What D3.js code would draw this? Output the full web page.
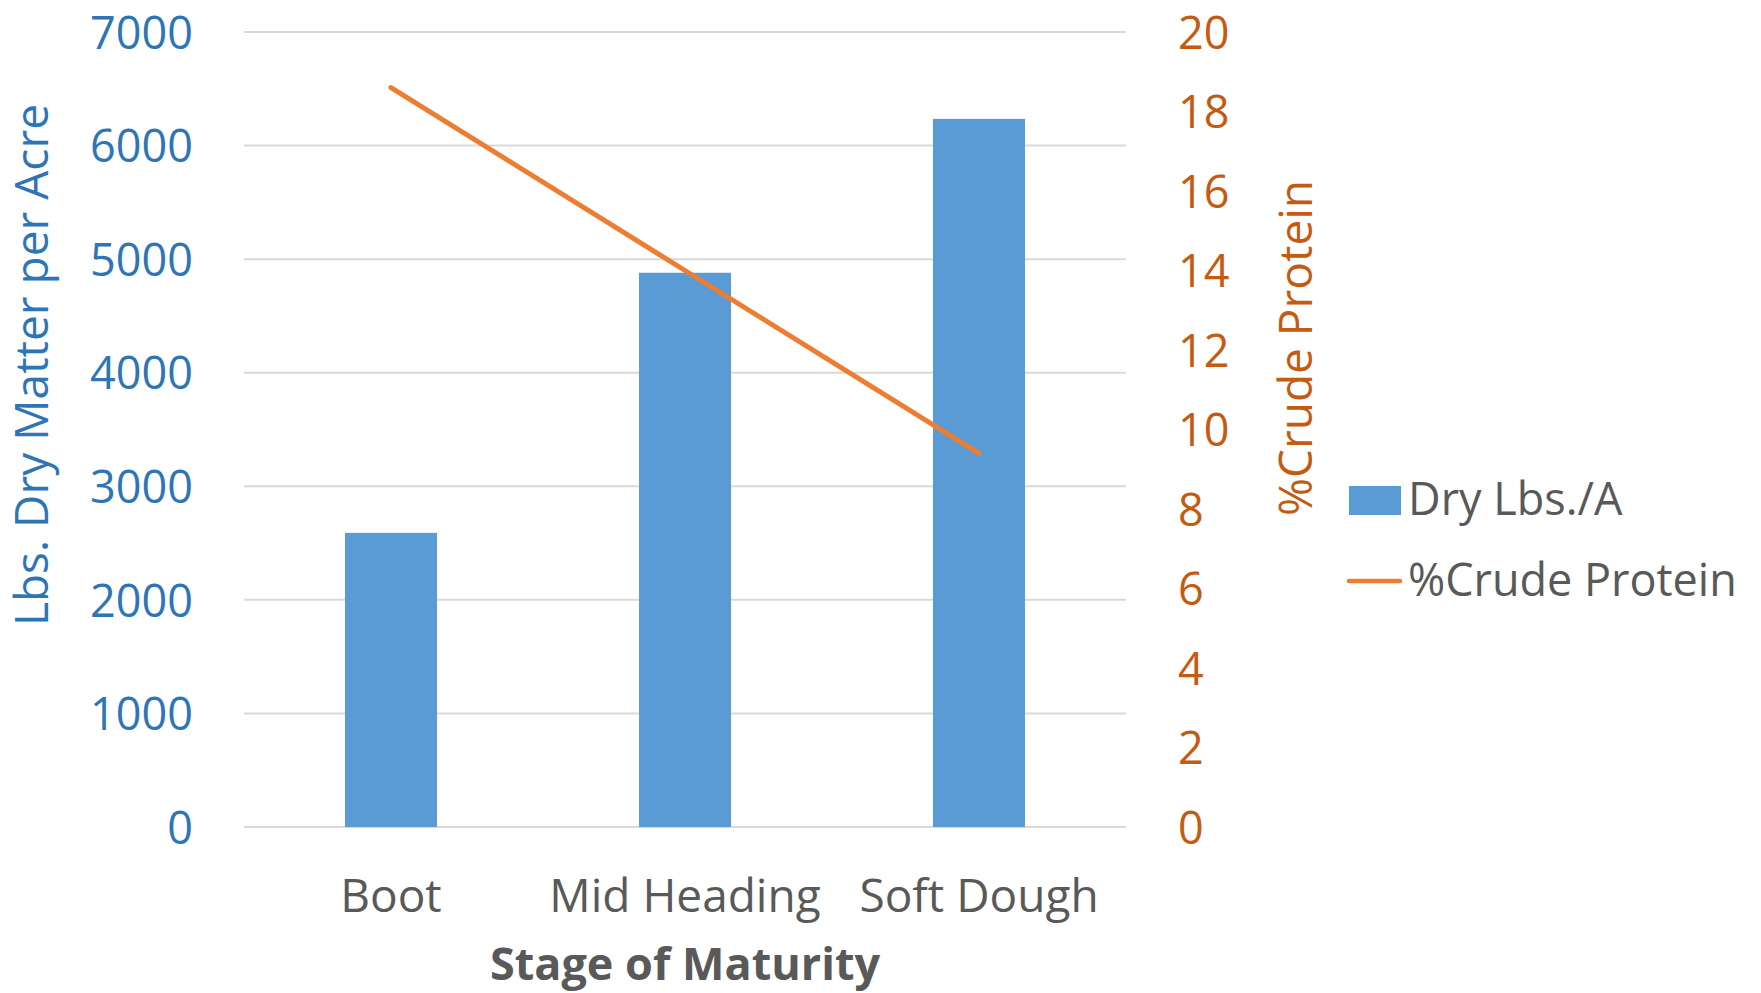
<!DOCTYPE html>
<html>
<head>
<meta charset="utf-8">
<script src="https://cdn.jsdelivr.net/npm/d3@7"></script>
<style>
  body { margin: 0; background: #ffffff; }
  svg { display: block; font-family: "Open Sans", sans-serif; }
  .grid line { stroke: #d9d9d9; stroke-width: 2px; }
</style>
</head>
<body>
<div id="chart"></div>
<script>
// data
const stages = ["Boot", "Mid Heading", "Soft Dough"];
const dryLbs = [2590, 4880, 6235];
const crudeProtein = [18.6, 14.0, 9.4];
const leftTicks = [0, 1000, 2000, 3000, 4000, 5000, 6000, 7000];
const rightTicks = [0, 2, 4, 6, 8, 10, 12, 14, 16, 18, 20];

const W = 1761, H = 993;
const margin = {top: 32, right: 635, bottom: 166, left: 244};
const width = W - margin.left - margin.right;
const height = H - margin.top - margin.bottom;

const blue = "#5b9bd5", orange = "#ed7d31";
const leftColor = "#2e75b6", rightColor = "#c55a11", gray = "#595959";

const svg = d3.select("#chart").append("svg")
    .attr("width", W)
    .attr("height", H);

const g = svg.append("g")
    .attr("transform", `translate(${margin.left},${margin.top})`);

const x = d3.scaleBand()
    .domain(stages)
    .range([0, width])
    .paddingInner(0.687)
    .paddingOuter(0.3435);

const yLeft = d3.scaleLinear().domain([0, 7000]).range([height, 0]);
const yRight = d3.scaleLinear().domain([0, 20]).range([height, 0]);

// gridlines
g.append("g")
    .attr("class", "grid")
    .selectAll("line")
    .data(leftTicks)
    .join("line")
    .attr("x1", 0)
    .attr("x2", width)
    .attr("y1", d => yLeft(d))
    .attr("y2", d => yLeft(d));

// bars
g.selectAll(".bar")
    .data(stages)
    .join("rect")
    .attr("class", "bar")
    .attr("x", d => x(d))
    .attr("width", x.bandwidth())
    .attr("y", (d, i) => yLeft(dryLbs[i]))
    .attr("height", (d, i) => height - yLeft(dryLbs[i]))
    .attr("fill", blue);

// protein line
const line = d3.line()
    .x((d, i) => x(stages[i]) + x.bandwidth() / 2)
    .y(d => yRight(d));

g.append("path")
    .datum(crudeProtein)
    .attr("d", line)
    .attr("fill", "none")
    .attr("stroke", orange)
    .attr("stroke-width", 5)
    .attr("stroke-linecap", "round");

// left axis
const leftAxis = d3.axisLeft(yLeft)
    .tickValues(leftTicks)
    .tickFormat(d3.format("d"))
    .tickSize(0)
    .tickPadding(51);
g.append("g")
    .attr("class", "y-left")
    .call(leftAxis)
    .attr("font-family", null)
    .call(a => a.select(".domain").remove())
    .selectAll("text")
    .attr("fill", leftColor)
    .attr("font-size", 45)
    .attr("dy", "0.36em");

// right axis
const rightAxis = d3.axisRight(yRight)
    .tickValues(rightTicks)
    .tickFormat(d3.format("d"))
    .tickSize(0)
    .tickPadding(52);
g.append("g")
    .attr("class", "y-right")
    .attr("transform", `translate(${width},0)`)
    .call(rightAxis)
    .attr("font-family", null)
    .call(a => a.select(".domain").remove())
    .selectAll("text")
    .attr("fill", rightColor)
    .attr("font-size", 45)
    .attr("dy", "0.36em");

// x axis
const xAxis = d3.axisBottom(x).tickSize(0).tickPadding(0);
g.append("g")
    .attr("class", "x-axis")
    .attr("transform", `translate(0,${height})`)
    .call(xAxis)
    .attr("font-family", null)
    .call(a => a.select(".domain").remove())
    .selectAll("text")
    .attr("fill", gray)
    .attr("font-size", 46)
    .attr("y", 85)
    .attr("dy", 0);

// axis titles
svg.append("text")
    .attr("transform", "translate(48,365) rotate(-90)")
    .attr("text-anchor", "middle")
    .attr("fill", leftColor)
    .attr("font-size", 46)
    .text("Lbs. Dry Matter per Acre");

svg.append("text")
    .attr("transform", "translate(1312,348) rotate(-90)")
    .attr("text-anchor", "middle")
    .attr("fill", rightColor)
    .attr("font-size", 46)
    .text("%Crude Protein");

svg.append("text")
    .attr("x", margin.left + width / 2)
    .attr("y", 980)
    .attr("text-anchor", "middle")
    .attr("fill", gray)
    .attr("font-size", 45)
    .attr("font-weight", "bold")
    .text("Stage of Maturity");

// legend
const legend = svg.append("g").attr("transform", "translate(1349,0)");
legend.append("rect")
    .attr("x", 0).attr("y", 486)
    .attr("width", 52).attr("height", 29)
    .attr("fill", blue);
legend.append("text")
    .attr("x", 59).attr("y", 515)
    .attr("fill", gray)
    .attr("font-size", 45)
    .text("Dry Lbs./A");
legend.append("line")
    .attr("x1", 0).attr("x2", 51)
    .attr("y1", 581).attr("y2", 581)
    .attr("stroke", orange)
    .attr("stroke-width", 4.5)
    .attr("stroke-linecap", "round");
legend.append("text")
    .attr("x", 59).attr("y", 596)
    .attr("fill", gray)
    .attr("font-size", 45)
    .text("%Crude Protein");
</script>
</body>
</html>
